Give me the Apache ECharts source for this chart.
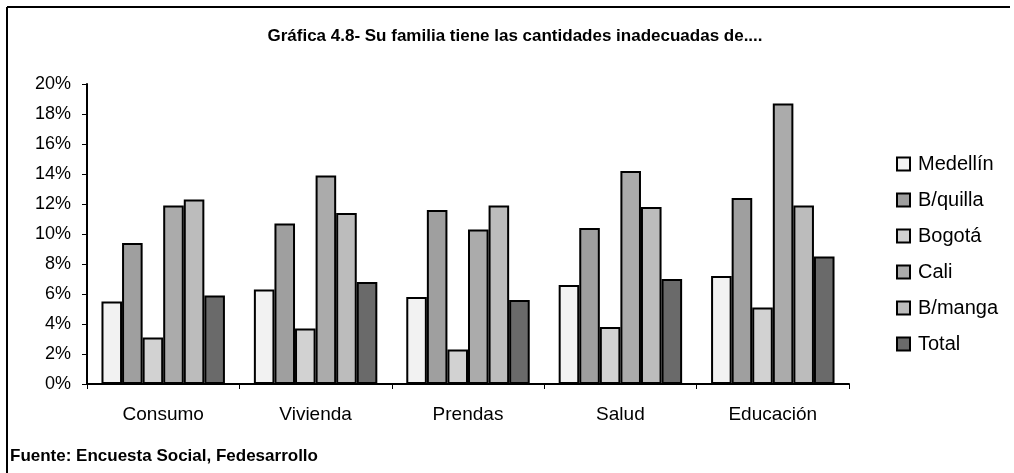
<!DOCTYPE html>
<html lang="es">
<head>
    <meta charset="UTF-8">
    <title>Gráfica 4.8</title>
    <script src="https://cdn.jsdelivr.net/npm/echarts@6/dist/echarts.min.js"></script>
    <style>
        html, body { margin: 0; padding: 0; background: #fff; }
        #chart { width: 1014px; height: 473px; }
    </style>
</head>
<body>
    <div id="chart"></div>
    <script>
        // datos (porcentaje)
        var categorias = ['Consumo', 'Vivienda', 'Prendas', 'Salud', 'Educación'];
        var ciudades = ['Medellín', 'B/quilla', 'Bogotá', 'Cali', 'B/manga', 'Total'];
        var medellin = [5.5, 6.3, 5.8, 6.6, 7.2];
        var bquilla = [9.4, 10.7, 11.6, 10.4, 12.4];
        var bogota = [3.1, 3.7, 2.3, 3.8, 5.1];
        var cali = [11.9, 13.9, 10.3, 14.2, 18.7];
        var bmanga = [12.3, 11.4, 11.9, 11.8, 11.9];
        var total = [5.9, 6.8, 5.6, 7.0, 8.5];
        var valores = [medellin, bquilla, bogota, cali, bmanga, total];

        var colores = ['#f2f2f2', '#9f9f9f', '#d2d2d2', '#ababab', '#bcbcbc', '#6a6a6a'];

        var myChart = echarts.init(document.getElementById('chart'));

        var series = [];
        for (var i = 0; i < ciudades.length; i++) {
            series.push({
                name: ciudades[i],
                type: 'bar',
                barGap: '0%',
                barCategoryGap: '19%',
                itemStyle: {
                    color: colores[i],
                    borderColor: '#000',
                    borderWidth: 2
                },
                data: valores[i]
            });
        }

        var option = {
            animation: false,
            textStyle: { fontFamily: 'Liberation Sans, Arial, sans-serif', color: '#000' },
            title: {
                text: 'Gráfica 4.8- Su familia tiene las cantidades inadecuadas de....',
                left: 510,
                textAlign: 'center',
                top: 23,
                textStyle: { fontSize: 17, fontWeight: 'bold', color: '#000' }
            },
            legend: {
                orient: 'vertical',
                left: 891,
                top: 149,
                itemWidth: 13,
                itemHeight: 13,
                itemGap: 16,
                icon: 'rect',
                textStyle: { fontSize: 20, color: '#000', padding: [0, 0, 0, 3] },
                data: ciudades
            },
            grid: {
                left: 87,
                right: 165,
                top: 84,
                bottom: 89
            },
            xAxis: {
                type: 'category',
                data: categorias,
                axisLine: { lineStyle: { color: '#000', width: 2 } },
                axisTick: { show: true, length: 5, lineStyle: { color: '#000' } },
                axisLabel: { fontSize: 19, color: '#000', margin: 21 }
            },
            yAxis: {
                type: 'value',
                min: 0,
                max: 20,
                interval: 2,
                splitLine: { show: false },
                axisLine: { show: true, lineStyle: { color: '#000', width: 2 } },
                axisTick: { show: true, length: 5, lineStyle: { color: '#000' } },
                axisLabel: {
                    fontSize: 18,
                    color: '#000',
                    margin: 16,
                    formatter: '{value}%'
                }
            },
            graphic: [
                {
                    type: 'line',
                    shape: { x1: 7, y1: 7, x2: 1010, y2: 7 },
                    style: { stroke: '#000', lineWidth: 2 }
                },
                {
                    type: 'line',
                    shape: { x1: 7, y1: 7, x2: 7, y2: 473 },
                    style: { stroke: '#000', lineWidth: 2 }
                },
                {
                    type: 'text',
                    left: 10,
                    top: 448,
                    style: {
                        text: 'Fuente: Encuesta Social, Fedesarrollo',
                        fontSize: 17,
                        fontWeight: 'bold',
                        fill: '#000',
                        fontFamily: 'Liberation Sans, Arial, sans-serif'
                    }
                }
            ],
            series: series
        };

        myChart.setOption(option);
    </script>
</body>
</html>
